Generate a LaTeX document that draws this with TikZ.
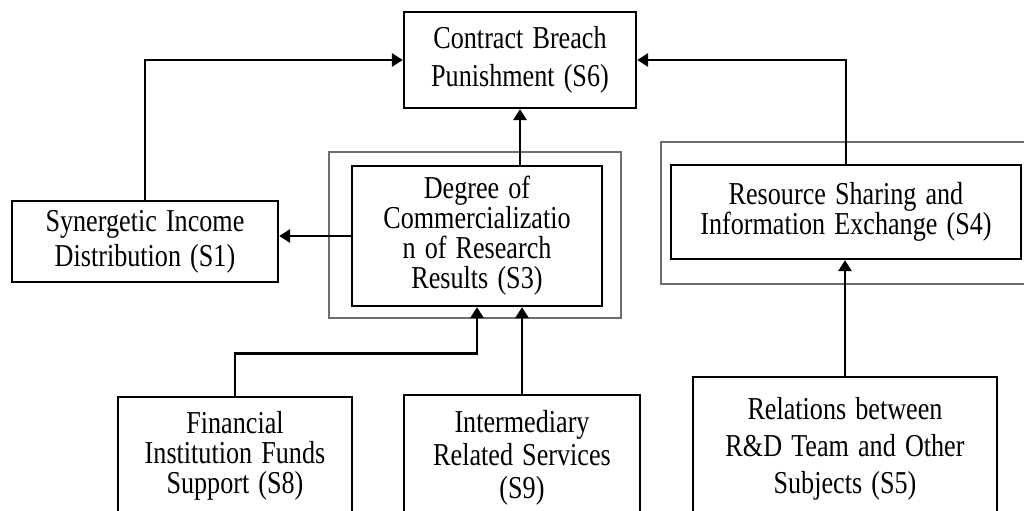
\documentclass[tikz,border=0pt]{standalone}
\usepackage{fontspec}
\setmainfont{Liberation Serif}[FakeStretch=0.82,WordSpace=1.4]
\usetikzlibrary{arrows.meta}
\definecolor{framegray}{HTML}{6E6E6E}
\begin{document}
\begin{tikzpicture}[x=1bp,y=-1bp,
  box/.style={draw, line width=2.2bp, inner sep=0pt, align=center,
    font=\fontsize{32pt}{#1}\selectfont},
  box/.default=34pt,
  frame/.style={draw=framegray, line width=2bp, inner sep=0pt},
  arr/.style={line width=2.8bp, -{Triangle[length=11bp,width=13bp]}}]
\useasboundingbox (0,0) rectangle (1024,511);
\clip (0,0) rectangle (1024,511);

% grey frames around the two clusters
\node[frame, minimum width=292bp, minimum height=166bp] (s3frame) at (475,235) {};
\node[frame, minimum width=380bp, minimum height=142bp] (s4frame) at (851,213) {};

% factor boxes
\node[box=38pt, minimum width=232bp, minimum height=96bp] (s6) at (520,60)
  {Contract Breach\\Punishment (S6)};
\node[box=35pt, minimum width=266bp, minimum height=81bp] (s1) at (145,241.5)
  {Synergetic Income\\Distribution (S1)};
\node[box=30pt, minimum width=250bp, minimum height=140bp] (s3) at (477,236)
  {Degree of\\Commercializatio\\n of Research\\Results (S3)};
\node[box=29pt, minimum width=350bp, minimum height=94bp] (s4) at (846,212)
  {Resource Sharing and\\Information Exchange (S4)};
\node[box=30pt, minimum width=234bp, minimum height=118bp] (s8) at (235,456)
  {Financial\\Institution Funds\\Support (S8)};
\node[box=33pt, minimum width=236bp, minimum height=126bp] (s9) at (522,458)
  {Intermediary\\Related Services\\(S9)};
\node[box=37pt, minimum width=304bp, minimum height=144bp] (s5) at (845,449)
  {Relations between\\R\&D Team and Other\\Subjects (S5)};

% influence arrows
\draw[arr] (s1.north) |- (s6.west);
\draw[arr] (s4.north) |- (s6.east);
\draw[arr] (s6.south |- s3.north) -- (s6.south);
\draw[arr] (s3.west) -- (s3.west -| s1.east);
\draw[arr] (s8.north) |- ([yshift=-46bp]s3.south) -- (s3.south);
\draw[arr] (s9.north) -- (s9.north |- s3.south);
\draw[arr] (s5.north) -- (s5.north |- s4.south);
\end{tikzpicture}
\end{document}
